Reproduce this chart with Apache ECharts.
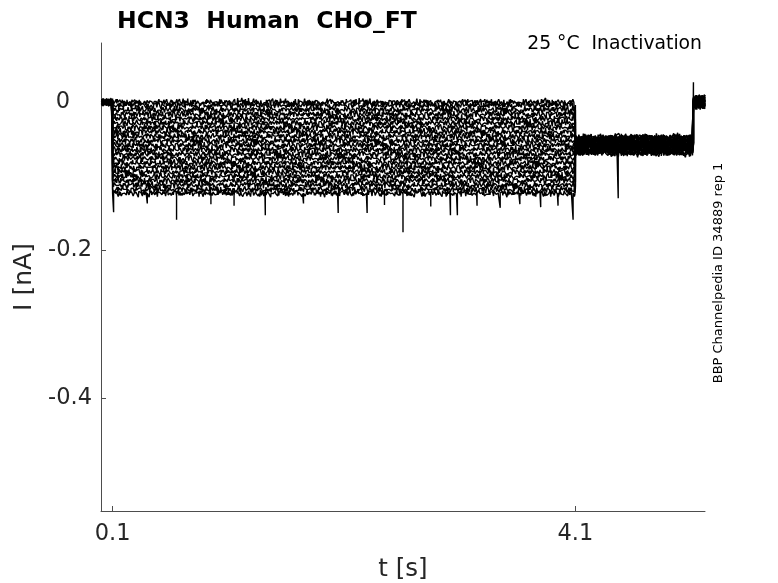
<!DOCTYPE html>
<html>
<head>
<meta charset="utf-8">
<script src="https://cdn.jsdelivr.net/npm/echarts@6/dist/echarts.min.js"></script>
<style>
  html, body { margin: 0; padding: 0; background: #fff; }
  #chart { width: 778px; height: 583px; }
</style>
</head>
<body>
<div id="chart"></div>
<script>
// current level of each sweep during the test pulse (0.1 - 4.1 s), nA
const pulseLevels = [0.000, -0.004, -0.010, -0.016, -0.022, -0.028, -0.034, -0.040,
  -0.046, -0.052, -0.058, -0.064, -0.070, -0.076, -0.082, -0.088, -0.094, -0.100,
  -0.106, -0.112, -0.118, -0.123];
// level after the pulse (4.1 - 5.12 s), nA
const tailLevels = [-0.049, -0.061, -0.054, -0.067, -0.057, -0.047, -0.063, -0.058,
  -0.052, -0.069, -0.059, -0.051, -0.062, -0.055, -0.065, -0.048, -0.058, -0.060,
  -0.053, -0.068, -0.056, -0.064];
// level at the very end (5.12 - 5.22 s), nA
const endLevels = [0.004, -0.004, 0.006, -0.002, 0.001, -0.006, 0.005, 0.000,
  -0.003, 0.006, -0.005, 0.003, -0.001, 0.004, -0.006, 0.002, 0.000, -0.003,
  0.005, -0.004, 0.002, -0.001];
// recording noise, in pA (1e-3 nA): fast part ...
const noise = [2, -3, 1, -4, 3, 0, -2, 4, -1, -5, 2, 3, -3, 1, -2, 4, 0, -4, 2, -1,
  3, -3, 5, -2, 0, -4, 1, 3, -1, -3, 4, -2, 2, -5, 1, 0, 3, -2, -4, 2, 4, -1, -3, 0,
  2, -4, 3, 1, -2, 5, -3, 0, -1, 4, -2, 2, -4, 1, 3, -3, 0, 2, -5, 3, -1, 4, -2, -3,
  1, 0, 2, -4, 4, -1, -2, 3, -3, 1, 5, -2, 0, -4, 2, -1, 3, -3, 1, 4, -2, -5, 2, 0,
  -1, 3, -4, 2, 1, -3, 4, -2, 0, 3, -1, -4, 2, 5, -3, 1, -2, 0, 4, -3, 2, -1, -4, 3,
  1, -2];
// ... and slower wander
const wander = [0, 1, 2, 1, -1, -2, -1, 0, 2, 2, 1, -1, -2, -2, 0, 1, -1, 1, 2, 0,
  -1, -2, -1, 1, 2, 1, 0, -2, -1, 0, 1, 2, 1, -1, 0, -2, -1, 1, 0, 2, 1, -1, -2, 0,
  1, -1, 2, 0, -2, 1, 0, -1, 2];
// single-sample downward spikes [t s, I nA]
const pulseSpikes = [[0.109, -0.149], [0.40, -0.137], [0.653, -0.159], [0.95, -0.138],
  [1.15, -0.140], [1.42, -0.153], [1.75, -0.137], [2.05, -0.150], [2.30, -0.150],
  [2.45, -0.139], [2.61, -0.176], [2.85, -0.141], [3.02, -0.153], [3.08, -0.153],
  [3.25, -0.140], [3.45, -0.143], [3.62, -0.138], [3.80, -0.142], [3.95, -0.140],
  [4.08, -0.159]];
const tailSpikes = [[4.47, -0.130]];
const stepSpike = [5.12, 0.027];

const xTicks = [0.1, 4.1];
const yTicks = [0, -0.2, -0.4];

const tStart = 0.005, tOn = 0.1, tOff = 4.1, tBack = 5.12, tEnd = 5.22;
const nPre = 22, nPulse = 900, nTail = 240, nEnd = 25;

function segment(points, t0, t1, n, level, off) {
  for (let k = 0; k < n; k++) {
    const t = t0 + (t1 - t0) * k / (n - 1);
    const d = noise[(k * 7 + off) % noise.length] + wander[(k + off * 3) % wander.length];
    points.push([t, level + d * 0.0008]);
  }
}

const series = pulseLevels.map((lvl, i) => {
  const off = i * 13;
  const pts = [];
  segment(pts, tStart, tOn, nPre, 0, off + 3);
  segment(pts, tOn, tOff, nPulse, lvl, off);
  segment(pts, tOff, tBack, nTail, tailLevels[i], off + 7);
  if (i === 0) pts.push([tBack, stepSpike[1]]);
  segment(pts, tBack, tEnd, nEnd, endLevels[i], off + 5);
  if (i === pulseLevels.length - 1) {
    pulseSpikes.forEach(s => {
      pts.push([s[0], lvl], [s[0], s[1]], [s[0], lvl]);
    });
  }
  if (i === 10) {
    tailSpikes.forEach(s => {
      pts.push([s[0], tailLevels[i]], [s[0], s[1]], [s[0], tailLevels[i]]);
    });
  }
  pts.sort((a, b) => a[0] - b[0]);
  return {
    type: 'line',
    data: pts,
    showSymbol: false,
    silent: true,
    progressive: 0,
    lineStyle: { color: '#000', width: 1.4 },
    z: 2
  };
});

const axisColor = '#4d4d4d';
const textColor = '#262626';
const font = 'DejaVu Sans';

const chart = echarts.init(document.getElementById('chart'));
chart.setOption({
  animation: false,
  backgroundColor: '#fff',
  title: [
    {
      text: 'HCN3  Human  CHO_FT',
      left: 112, top: 5,
      textStyle: { fontFamily: font, fontWeight: 'bold', fontSize: 23.5, color: '#000' }
    },
    {
      text: '25 °C  Inactivation',
      right: 71, top: 30,
      textStyle: { fontFamily: font, fontWeight: 'normal', fontSize: 18.8, color: '#000' }
    }
  ],
  graphic: [{
    type: 'text',
    x: 712, y: 273,
    rotation: Math.PI / 2,
    style: {
      text: 'BBP Channelpedia ID 34889 rep 1',
      font: '13px "DejaVu Sans"',
      fill: '#000',
      align: 'center',
      verticalAlign: 'top'
    }
  }],
  grid: { left: 101, right: 73, top: 43, bottom: 72, outerBoundsMode: 'none' },
  xAxis: {
    type: 'value',
    min: 0, max: tEnd,
    name: 't [s]',
    nameLocation: 'middle',
    nameGap: 46,
    nameTextStyle: { fontFamily: font, fontSize: 24.5, color: textColor },
    axisLine: { show: true, onZero: false, lineStyle: { color: axisColor, width: 1 } },
    axisTick: { show: true, inside: true, length: 5, customValues: xTicks, lineStyle: { color: axisColor } },
    axisLabel: {
      customValues: xTicks,
      formatter: v => v.toFixed(1),
      fontFamily: font, fontSize: 22.5, color: textColor, margin: 12
    },
    splitLine: { show: false }
  },
  yAxis: {
    type: 'value',
    min: -0.553, max: 0.08,
    name: 'I [nA]',
    nameLocation: 'middle',
    nameGap: 58,
    nameTextStyle: { fontFamily: font, fontSize: 25, color: textColor },
    axisLine: { show: true, onZero: false, lineStyle: { color: axisColor, width: 1 } },
    axisTick: { show: true, inside: true, length: 5, customValues: yTicks, lineStyle: { color: axisColor } },
    axisLabel: {
      customValues: yTicks,
      formatter: v => (v === 0 ? '{z|0}' : v.toFixed(1)),
      rich: { z: { fontFamily: font, fontSize: 22.5, color: textColor, padding: [0, 22, 0, 0] } },
      fontFamily: font, fontSize: 22.5, color: textColor, margin: 9
    },
    splitLine: { show: false }
  },
  series: series
});
</script>
</body>
</html>
